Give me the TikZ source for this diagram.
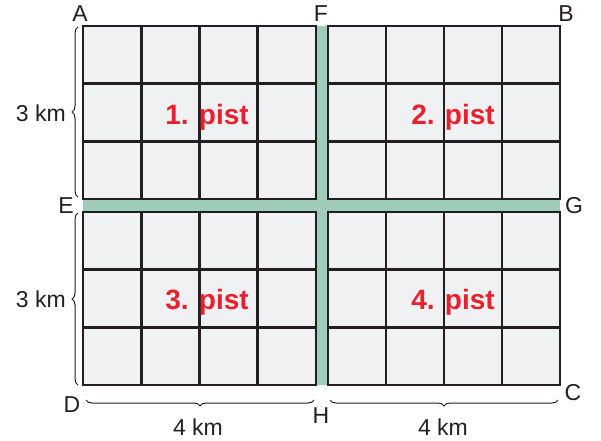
\documentclass[tikz,border=0pt]{standalone}
\usepackage{fontspec}
\setmainfont{Liberation Sans}
\usetikzlibrary{decorations.pathreplacing}
\definecolor{cellfill}{HTML}{F0F1F3}
\definecolor{roadgreen}{HTML}{9FCBB9}
\definecolor{gridline}{HTML}{231F20}
\definecolor{pistred}{HTML}{E8212E}
\tikzset{
  gridln/.style={draw=gridline, line width=2.6pt},
  lbl/.style={font=\fontsize{23}{23}\selectfont, text=gridline, inner sep=0pt},
  pist/.style={font=\bfseries\fontsize{28}{28}\selectfont, text=pistred, inner sep=0pt, anchor=base},
  bracel/.style={decorate, decoration={brace, amplitude=6pt}, draw=gridline, line width=1pt},
}
\begin{document}
\begin{tikzpicture}[x=1pt, y=-1pt]
\useasboundingbox (0,0) rectangle (601,440);
% road strip
\fill[roadgreen] (83,26) rectangle (560,385);
% blocks
\foreach \xa/\xb in {83/316, 328/560}{
  \foreach \ya/\yb in {26/199, 212/385}{
    \fill[cellfill] (\xa,\ya) rectangle (\xb,\yb);
    \pgfmathsetmacro{\dx}{(\xb-\xa)/4}
    \pgfmathsetmacro{\dy}{(\yb-\ya)/3}
    \foreach \i in {1,2,3}{
      \draw[gridln] ({\xa+\i*\dx},\ya) -- ({\xa+\i*\dx},\yb);
    }
    \foreach \j in {1,2}{
      \draw[gridln] (\xa,{\ya+\j*\dy}) -- (\xb,{\ya+\j*\dy});
    }
    \draw[gridln] (\xa,\ya) rectangle (\xb,\yb);
  }
}
% pist labels
\node[pist] (p1) at (207,124) {1. pist};
\node[pist] (p2) at (453,124) {2. pist};
\node[pist] (p3) at (207,309) {3. pist};
\node[pist] (p4) at (453,309) {4. pist};
% corner labels
\node[lbl] (A) at (80,14) {A};
\node[lbl] (F) at (321,14) {F};
\node[lbl] (B) at (566,14) {B};
\node[lbl] (E) at (66,206) {E};
\node[lbl] (G) at (574,206) {G};
\node[lbl] (D) at (72,405) {D};
\node[lbl] (H) at (321,416) {H};
\node[lbl] (C) at (573,393) {C};
% braces
\coordinate (b1s) at (78,197);
\coordinate (b1e) at (78,27);
\coordinate (b2s) at (78,385);
\coordinate (b2e) at (78,213);
\coordinate (b3s) at (86,400);
\coordinate (b3e) at (314,400);
\coordinate (b4s) at (330,400);
\coordinate (b4e) at (558,400);
\draw[bracel] (b1s) -- (b1e);
\draw[bracel] (b2s) -- (b2e);
\draw[bracel] (b3e) -- (b3s);
\draw[bracel] (b4e) -- (b4s);
\node[lbl, anchor=east] (k1) at (66,113) {3 km};
\node[lbl, anchor=east] (k2) at (66,299) {3 km};
\node[lbl] (k3) at (198,427) {4 km};
\node[lbl] (k4) at (443,427) {4 km};
\end{tikzpicture}
\end{document}
